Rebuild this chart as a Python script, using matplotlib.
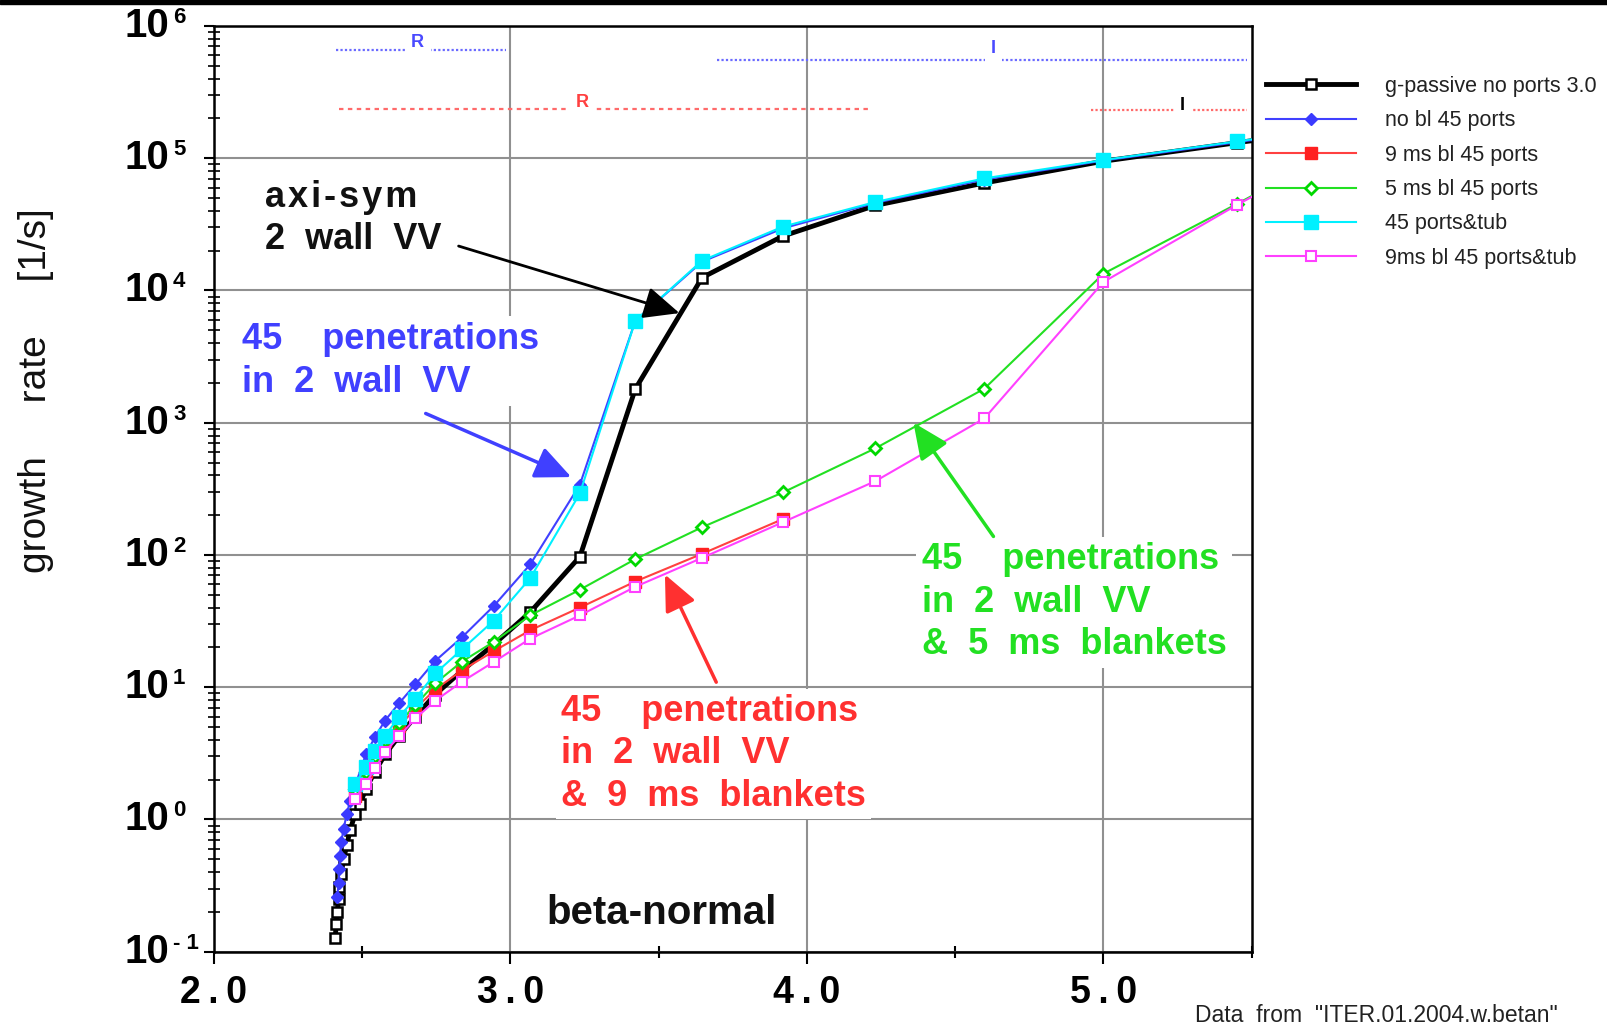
import numpy as np
import matplotlib
matplotlib.use('Agg')
import matplotlib.pyplot as plt
import matplotlib.transforms as mtransforms
from matplotlib.ticker import LogLocator, NullFormatter
from matplotlib.patches import Rectangle

plt.rcParams['font.family'] = ['Liberation Sans', 'DejaVu Sans']

# beta-normal scan and growth rates [1/s] for each wall model
x_passive = [2.409, 2.412, 2.416, 2.420, 2.423, 2.429, 2.437, 2.448, 2.459, 2.476,
             2.493, 2.512, 2.543, 2.577, 2.625, 2.679, 2.746, 2.836, 2.943, 3.067,
             3.234, 3.421, 3.646, 3.919, 4.231, 4.598, 5.000, 5.449, 5.950]
y_passive = [0.126, 0.163, 0.20, 0.25, 0.31, 0.39, 0.50, 0.64, 0.83, 1.10,
             1.32, 1.7, 2.3, 3.1, 4.3, 6.0, 8.8, 13.3, 21, 37,
             97, 1800, 12500, 25800, 44000, 65000, 95000, 131000, 185000]

x_nobl = [2.416, 2.420, 2.423, 2.425, 2.429, 2.437, 2.448, 2.459, 2.476, 2.512,
          2.543, 2.577, 2.625, 2.679, 2.746, 2.836, 2.943, 3.067, 3.234, 3.421,
          3.646, 3.919, 4.231, 4.598, 5.000, 5.449, 5.950]
y_nobl = [0.26, 0.33, 0.42, 0.53, 0.67, 0.85, 1.1, 1.39, 1.8, 3.1,
          4.2, 5.6, 7.6, 10.5, 15.8, 23.8, 41, 85, 340, 5900,
          16500, 29500, 46000, 69000, 96000, 132000, 190000]

x_9ms = [2.476, 2.512, 2.543, 2.577, 2.625, 2.679, 2.746, 2.836, 2.943, 3.067,
         3.234, 3.421, 3.646, 3.919]
y_9ms = [1.5, 2.3, 3.1, 3.9, 5.07, 6.9, 9.6, 13.4, 18.7, 27,
         40, 63, 102, 187]

x_5ms = [2.476, 2.512, 2.543, 2.577, 2.625, 2.679, 2.746, 2.836, 2.943, 3.067,
         3.234, 3.421, 3.646, 3.919, 4.231, 4.598, 5.000, 5.449, 5.950]
y_5ms = [1.7, 2.3, 3.0, 4.0, 5.4, 7.3, 10.7, 15.6, 22, 35,
         54.6, 93, 162, 297, 641, 1807, 13400, 45000, 180000]

x_tub = [2.476, 2.512, 2.543, 2.577, 2.625, 2.679, 2.746, 2.836, 2.943, 3.067,
         3.234, 3.421, 3.646, 3.919, 4.231, 4.598, 5.000, 5.449, 5.950]
y_tub = [1.85, 2.5, 3.3, 4.3, 6.0, 8.2, 12.7, 19.3, 31.8, 67,
         292, 5900, 16800, 30400, 46700, 70400, 97000, 134000, 190000]

x_9ms_tub = [2.476, 2.512, 2.543, 2.577, 2.625, 2.679, 2.746, 2.836, 2.943, 3.067,
             3.234, 3.421, 3.646, 3.919, 4.231, 4.598, 5.000, 5.449, 5.950]
y_9ms_tub = [1.44, 1.87, 2.43, 3.24, 4.26, 5.8, 7.9, 11.0, 15.5, 23.3,
             34.9, 57.5, 95, 177, 362, 1077, 11600, 44200, 180000]

# resistive / ideal wall mode regions (beta-normal ranges)
blue_R = [2.412, 2.984]
blue_I = [3.695, 5.484]
red_R = [2.420, 4.213]
red_I = [4.958, 5.484]

x_major = [2.0, 3.0, 4.0, 5.0]
x_labels = ['2\u2009.\u20090', '3\u2009.\u20090', '4\u2009.\u20090', '5\u2009.\u20090']
x_minor = [2.5, 3.5, 4.5, 5.5]
y_exps = [-1, 0, 1, 2, 3, 4, 5, 6]

W, H = 1608, 1028
fig = plt.figure(figsize=(W / 100, H / 100), dpi=100)
ax = fig.add_axes([214 / W, 1 - 951.7 / H, (1251.7 - 214) / W, (951.7 - 26) / H])

ax.plot(x_passive, y_passive, color='black', lw=3.5, marker='s', ms=7,
        mfc='white', mec='black', mew=1.8, zorder=5, label='g-passive no ports 3.0')
ax.plot(x_nobl, y_nobl, color='#4040ff', lw=1.5, marker='D', ms=6.5,
        mfc='#3a3aff', mec='#3a3aff', zorder=6, label='no bl 45 ports')
ax.plot(x_9ms, y_9ms, color='#ff4040', lw=1.5, marker='s', ms=8,
        mfc='#ff2020', mec='#ff2020', zorder=7, label='9 ms bl 45 ports')
ax.plot(x_5ms, y_5ms, color='#22e022', lw=1.5, marker='D', ms=6,
        mfc='white', mec='#00d800', mew=2, zorder=8, label='5 ms bl 45 ports')
ax.plot(x_tub, y_tub, color='#00f0ff', lw=1.5, marker='s', ms=10,
        mfc='#00f0ff', mec='#00f0ff', zorder=9, label='45 ports&tub')
ax.plot(x_9ms_tub, y_9ms_tub, color='#ff40ff', lw=1.5, marker='s', ms=7.5,
        mfc='white', mec='#ff40ff', mew=1.5, zorder=10, label='9ms bl 45 ports&tub')

ax.set_yscale('log')
ax.set_xlim(2.0, 5.5)
ax.set_ylim(1e-1, 1e6)
ax.set_xticks(x_major, labels=x_labels)
ax.set_xticks(x_minor, minor=True)
ax.yaxis.set_major_locator(LogLocator(base=10, numticks=20))
ax.yaxis.set_minor_locator(LogLocator(base=10, subs=np.arange(2, 10), numticks=20))
ax.yaxis.set_major_formatter(NullFormatter())
ax.yaxis.set_minor_formatter(NullFormatter())

ax.tick_params(axis='x', which='major', direction='out', length=8.6, width=1.5,
               pad=8, labelsize=27)
for t in ax.get_xticklabels():
    t.set_fontweight('bold')
ax.tick_params(axis='x', which='minor', direction='inout', length=8, width=1.5)
ax.tick_params(axis='y', which='major', direction='out', length=7, width=1.5)
ax.tick_params(axis='y', which='minor', direction='inout', length=8.5, width=1.2)

# decade labels: "10" with a small raised exponent
ytr = ax.get_yaxis_transform()
exp_tr = mtransforms.offset_copy(ytr, fig=fig, x=0, y=19, units='dots')
for e in y_exps:
    ax.text(-0.0434, 10.0 ** e, '10', transform=ytr, ha='right', va='center',
            fontsize=29, fontweight='bold', clip_on=False)
    s = '- 1' if e < 0 else str(e)
    ax.text(-0.0395, 10.0 ** e, s, transform=exp_tr, ha='left', va='top',
            fontsize=16, fontweight='bold', clip_on=False)

ax.set_axisbelow(True)
ax.grid(True, which='major', color='#909090', lw=1.5)
for s in ax.spines.values():
    s.set_linewidth(1.8)

# mode region markers along the top
ax.plot(blue_R, [10 ** 5.82] * 2, color='#6a6aff', lw=1.6, ls=(0, (1, 1)), zorder=3)
ax.plot(blue_I, [10 ** 5.745] * 2, color='#6a6aff', lw=1.6, ls=(0, (1, 1)), zorder=3)
ax.plot(red_R, [10 ** 5.375] * 2, color='#ff6a6a', lw=1.6, ls=(0, (2, 2)), zorder=3)
ax.plot(red_I, [10 ** 5.365] * 2, color='#ff6a6a', lw=1.6, ls=(0, (1, 1)), zorder=3)
box = dict(boxstyle='square,pad=0.35', fc='white', ec='none')
ax.text(2.687, 10 ** 5.875, 'R', color='#4a4aff', fontsize=13, fontweight='bold',
        ha='center', va='center', bbox=box, zorder=6)
ax.text(4.629, 10 ** 5.83, 'I', color='#4a4aff', fontsize=13, fontweight='bold',
        ha='center', va='center', bbox=box, zorder=6)
ax.text(3.241, 10 ** 5.421, 'R', color='#ff4040', fontsize=13, fontweight='bold',
        ha='center', va='center', bbox=box, zorder=6)
ax.text(5.266, 10 ** 5.40, 'I', color='black', fontsize=13, fontweight='bold',
        ha='center', va='center', bbox=box, zorder=6)

# curve annotations
lbox = dict(boxstyle='square,pad=0.15', fc='white', ec='none')
hs = '\u200a'
ax.text(2.171, 10 ** 4.545, hs.join('axi-sym') + '\n2  wall  VV', color='#111111',
        fontsize=26, fontweight='bold', ha='left', va='center', linespacing=1.28,
        bbox=lbox, zorder=3)
ax.text(2.0945, 10 ** 3.466, '45    penetrations\nin  2  wall  VV', color='#4040ff',
        fontsize=26, fontweight='bold', ha='left', va='center', linespacing=1.32,
        bbox=lbox, zorder=3)
ax.text(4.387, 10 ** 1.643, '45    penetrations\nin  2  wall  VV\n&  5  ms  blankets',
        color='#22e022', fontsize=26, fontweight='bold', ha='left', va='center',
        linespacing=1.28, bbox=lbox, zorder=3)
ax.text(3.171, 10 ** 0.495, '45    penetrations\nin  2  wall  VV\n&  9  ms  blankets',
        color='#ff3030', fontsize=26, fontweight='bold', ha='left', va='center',
        linespacing=1.28, bbox=lbox, zorder=3)
ax.text(3.5105, 10 ** -0.707, 'beta-normal', color='#111111', fontsize=29,
        fontweight='bold', ha='center', va='center', zorder=3)

arrow = dict(arrowstyle='-|>,head_length=1.0,head_width=0.45', mutation_scale=22,
             shrinkA=0, shrinkB=0)
ax.annotate('', xy=(3.57, 10 ** 3.829), xytext=(2.825, 10 ** 4.336),
            arrowprops=dict(arrow, color='black', lw=2), zorder=11)
ax.annotate('', xy=(3.205, 10 ** 2.589), xytext=(2.714, 10 ** 3.070),
            arrowprops=dict(arrow, color='#4040ff', lw=2.5), zorder=11)
ax.annotate('', xy=(4.359, 10 ** 3.001), xytext=(4.629, 10 ** 2.140),
            arrowprops=dict(arrow, color='#22e022', lw=2.5), zorder=11)
ax.annotate('', xy=(3.521, 10 ** 1.852), xytext=(3.694, 10 ** 1.038),
            arrowprops=dict(arrow, color='#ff3030', lw=2.5), zorder=11)

fig.text(36 / W, 1 - 391 / H, 'growth     rate     [1/s]', rotation=90,
         fontsize=28, ha='center', va='center', color='#111111')
fig.text(1195 / W, 1 - 1016 / H, 'Data  from  "ITER.01.2004.w.betan"',
         fontsize=16.5, ha='left', va='center', color='#222222')

fig.legend(loc='upper left', bbox_to_anchor=(1266 / W, 1 - 76 / H), frameon=False,
           fontsize=15.5, handlelength=4.2, handletextpad=1.35, labelspacing=0.62,
           borderpad=0, borderaxespad=0, labelcolor='#222222')

fig.patches.append(Rectangle((0, 1 - 4 / H), 1, 4 / H, transform=fig.transFigure,
                             color='black', zorder=0))

fig.savefig('out.png', dpi=100)
